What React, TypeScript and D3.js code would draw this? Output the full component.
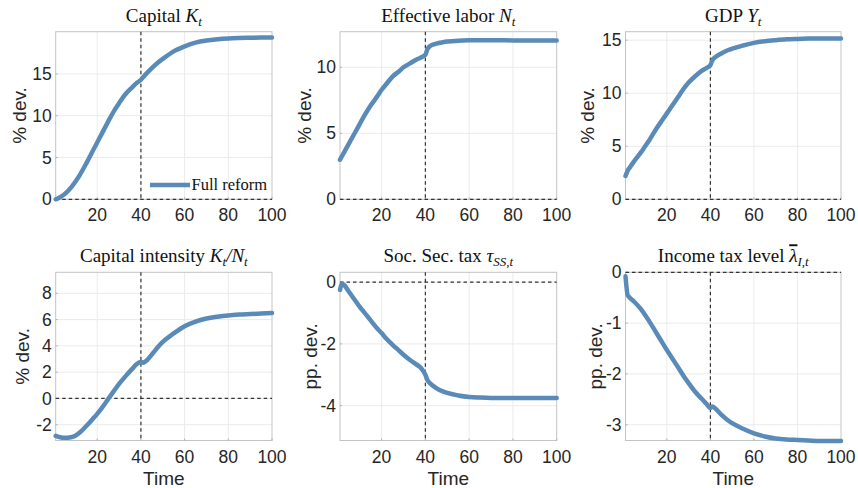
import React from "react";
import * as d3 from "d3";

const time = [1, 2, 3, 5, 8, 10, 12, 15, 18, 20, 22, 25, 28, 30, 33, 36, 38, 40, 41, 42, 45, 48, 50, 55, 60, 65, 70, 75, 80, 85, 90, 95, 100];

const capital = [0, 0.1, 0.25, 0.6, 1.4, 2.1, 2.9, 4.3, 5.8, 6.8, 7.8, 9.3, 10.7, 11.5, 12.6, 13.4, 13.9, 14.3, 14.6, 14.9, 15.7, 16.4, 16.8, 17.7, 18.3, 18.75, 19.0, 19.15, 19.25, 19.3, 19.33, 19.35, 19.37];
const labor = [3.0, 3.3, 3.6, 4.2, 5.1, 5.7, 6.3, 7.1, 7.8, 8.3, 8.7, 9.3, 9.7, 10.0, 10.3, 10.6, 10.75, 10.95, 11.4, 11.6, 11.8, 11.9, 11.95, 12.02, 12.05, 12.06, 12.06, 12.05, 12.04, 12.04, 12.03, 12.03, 12.03];
const gdp = [2.2, 2.7, 3.0, 3.6, 4.4, 5.0, 5.6, 6.6, 7.5, 8.1, 8.7, 9.6, 10.5, 11.0, 11.6, 12.1, 12.35, 12.65, 13.15, 13.35, 13.75, 14.05, 14.2, 14.5, 14.75, 14.9, 15.0, 15.08, 15.12, 15.15, 15.16, 15.17, 15.17];
const intensity = [-2.85, -2.9, -2.95, -3.0, -2.95, -2.83, -2.6, -2.1, -1.55, -1.17, -0.75, -0.05, 0.65, 1.1, 1.7, 2.25, 2.6, 2.8, 2.72, 2.8, 3.35, 3.95, 4.3, 4.95, 5.5, 5.85, 6.08, 6.22, 6.32, 6.38, 6.42, 6.46, 6.5];
const ssTax = [-0.25, -0.05, -0.1, -0.3, -0.6, -0.8, -0.97, -1.24, -1.5, -1.65, -1.82, -2.03, -2.22, -2.35, -2.52, -2.67, -2.78, -3.0, -3.18, -3.27, -3.43, -3.54, -3.59, -3.67, -3.72, -3.74, -3.75, -3.75, -3.75, -3.75, -3.75, -3.75, -3.75];
const incomeTax = [-0.08, -0.45, -0.5, -0.58, -0.72, -0.84, -0.97, -1.18, -1.39, -1.53, -1.66, -1.86, -2.06, -2.18, -2.35, -2.49, -2.58, -2.67, -2.64, -2.67, -2.8, -2.91, -2.97, -3.08, -3.17, -3.23, -3.27, -3.29, -3.3, -3.31, -3.32, -3.32, -3.32];

const xTicks = [20, 40, 60, 80, 100];
const reformTime = 40;
const legendLabel = "Full reform";
const xLabel = "Time";

type Seg = { t: string; it?: boolean; sub?: boolean; bar?: boolean };

const panels: {
  title: Seg[];
  ylabel: string;
  values: number[];
  yDomain: [number, number];
  yTicks: number[];
}[] = [
  { title: [{ t: "Capital " }, { t: "K", it: true }, { t: "t", it: true, sub: true }], ylabel: "% dev.", values: capital, yDomain: [0, 20.05], yTicks: [0, 5, 10, 15] },
  { title: [{ t: "Effective labor " }, { t: "N", it: true }, { t: "t", it: true, sub: true }], ylabel: "% dev.", values: labor, yDomain: [0, 12.7], yTicks: [0, 5, 10] },
  { title: [{ t: "GDP " }, { t: "Y", it: true }, { t: "t", it: true, sub: true }], ylabel: "% dev.", values: gdp, yDomain: [0, 15.8], yTicks: [0, 5, 10, 15] },
  { title: [{ t: "Capital intensity " }, { t: "K", it: true }, { t: "t", it: true, sub: true }, { t: "/N", it: true }, { t: "t", it: true, sub: true }], ylabel: "% dev.", values: intensity, yDomain: [-3.2, 9.6], yTicks: [-2, 0, 2, 4, 6, 8] },
  { title: [{ t: "Soc. Sec. tax " }, { t: "τ", it: true }, { t: "SS,t", it: true, sub: true }], ylabel: "pp. dev.", values: ssTax, yDomain: [-5.13, 0.32], yTicks: [-4, -2, 0] },
  { title: [{ t: "Income tax level " }, { t: "λ", it: true, bar: true }, { t: "I,t", it: true, sub: true }], ylabel: "pp. dev.", values: incomeTax, yDomain: [-3.31, 0], yTicks: [-3, -2, -1, 0] },
];

const cols: [number, number][] = [[55.7, 272], [340, 556.7], [625.5, 841]];
const rows: [number, number][] = [[31.7, 199.3], [272.3, 440.5]];
const ylabelX = [19, 304.5, 587, 22.5, 310, 595.5];

const LINE = "#5a8bb8";
const SANS = "'Liberation Sans', Arial, Helvetica, sans-serif";
const SERIF = "'Liberation Serif', 'Times New Roman', serif";
const TFS = 19;

function Panel({ i }: { i: number }) {
  const p = panels[i];
  const [x0, x1] = cols[i % 3];
  const [y0, y1] = rows[Math.floor(i / 3)];
  const x = d3.scaleLinear().domain([1, 100]).range([x0, x1]);
  const y = d3.scaleLinear().domain(p.yDomain).range([y1, y0]);
  const pts = time.map((t, k) => [t, p.values[k]] as [number, number]);
  const path = d3
    .line<[number, number]>()
    .x((d) => x(d[0]))
    .y((d) => y(d[1]))
    .curve(d3.curveMonotoneX)(pts) as string;
  const bottomRow = i >= 3;
  const cx = (x0 + x1) / 2;
  return (
    <g>
      <rect x={x0} y={y0} width={x1 - x0} height={y1 - y0} fill="white" />
      {xTicks.filter((t) => t < 100).map((t) => (
        <line key={"gx" + t} x1={x(t)} x2={x(t)} y1={y0} y2={y1} stroke="#ebebeb" strokeWidth={1} />
      ))}
      {p.yTicks.map((t) => (
        <line key={"gy" + t} x1={x0} x2={x1} y1={y(t)} y2={y(t)} stroke="#ebebeb" strokeWidth={1} />
      ))}
      <rect x={x0} y={y0} width={x1 - x0} height={y1 - y0} fill="none" stroke="#c4c4c4" strokeWidth={1} />
      {xTicks.map((t) => (
        <line key={"tx" + t} x1={x(t)} x2={x(t)} y1={y1} y2={y1 - 2} stroke="#b0b0b0" />
      ))}
      {p.yTicks.map((t) => (
        <line key={"ty" + t} x1={x0} x2={x0 + 2} y1={y(t)} y2={y(t)} stroke="#b0b0b0" />
      ))}
      <line x1={x0} x2={x1} y1={y(0)} y2={y(0)} stroke="#333" strokeWidth={1.2} strokeDasharray="3.5,3" />
      <line x1={x(reformTime)} x2={x(reformTime)} y1={y0} y2={y1} stroke="#333" strokeWidth={1.2} strokeDasharray="3.5,3" />
      <path d={path} fill="none" stroke={LINE} strokeWidth={4.5} strokeLinejoin="round" strokeLinecap="round" />
      {xTicks.map((t) => (
        <text key={"lx" + t} x={x(t)} y={y1 + 22} textAnchor="middle" fontFamily={SANS} fontSize={17.5} fill="#262626">
          {t}
        </text>
      ))}
      {p.yTicks.map((t) => (
        <text key={"ly" + t} x={x0 - 4} y={y(t)} dy="0.35em" textAnchor="end" fontFamily={SANS} fontSize={17.5} fill="#262626">
          {t}
        </text>
      ))}
      <text
        transform={`translate(${ylabelX[i]},${(y0 + y1) / 2}) rotate(-90)`}
        textAnchor="middle"
        dy="0.35em"
        fontFamily={SANS}
        fontSize={19}
        fill="#262626"
      >
        {p.ylabel}
      </text>
      <text x={cx} y={y0 - 10} textAnchor="middle" fontFamily={SERIF} fontSize={TFS} fill="#111">
        {p.title.map((s, k) => (
          <tspan
            key={k}
            fontStyle={s.it ? "italic" : "normal"}
            fontSize={s.sub ? 13 : TFS}
            textDecoration={s.bar ? "overline" : undefined}
            dy={s.sub ? 4 : k > 0 && p.title[k - 1].sub ? -4 : 0}
          >
            {s.t}
          </tspan>
        ))}
      </text>
      {bottomRow && (
        <text x={cx} y={484.5} textAnchor="middle" fontFamily={SANS} fontSize={19} fill="#262626">
          {xLabel}
        </text>
      )}
      {i === 0 && (
        <g>
          <line x1={150} x2={190} y1={185} y2={185} stroke={LINE} strokeWidth={4.5} />
          <text x={191.5} y={190} fontFamily={SERIF} fontSize={16.5} fill="#111">
            {legendLabel}
          </text>
        </g>
      )}
    </g>
  );
}

export default function App() {
  return (
    <svg width={858} height={488} style={{ position: "absolute", left: 0, top: 0, background: "white" }}>
      <rect width={858} height={488} fill="white" />
      {panels.map((_, i) => (
        <Panel key={i} i={i} />
      ))}
    </svg>
  );
}
